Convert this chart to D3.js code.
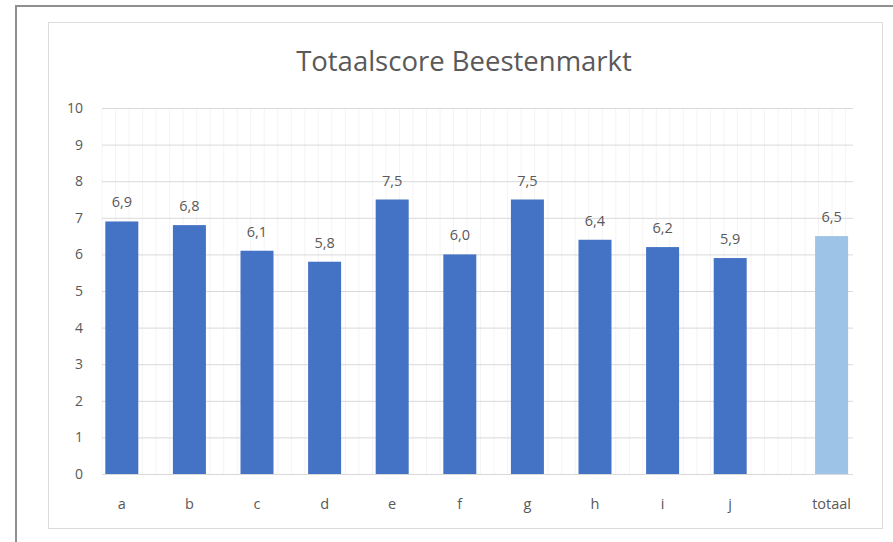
<!DOCTYPE html>
<html>
<head>
<meta charset="utf-8">
<script src="https://cdn.jsdelivr.net/npm/d3@7"></script>
<style>
  body { margin: 0; background: #fff; }
  svg { display: block; font-family: 'Open Sans', 'Liberation Sans', sans-serif; }
</style>
</head>
<body>
<svg id="chart" width="893" height="542"></svg>
<script>
const title = 'Totaalscore Beestenmarkt';
const categories = ['a', 'b', 'c', 'd', 'e', 'f', 'g', 'h', 'i', 'j'];
const scores = [6.9, 6.8, 6.1, 5.8, 7.5, 6.0, 7.5, 6.4, 6.2, 5.9];
const totalLabel = 'totaal';
const totalScore = 6.5;
const yTicks = [0, 1, 2, 3, 4, 5, 6, 7, 8, 9, 10];

const svg = d3.select('#chart');

// outer frame (left + top only)
svg.append('path')
  .attr('d', 'M16,542 V6 H893')
  .attr('fill', 'none')
  .attr('stroke', '#8f8f8f')
  .attr('stroke-width', 2);

// chart box
svg.append('rect')
  .attr('x', 48.5).attr('y', 22.5)
  .attr('width', 834).attr('height', 506)
  .attr('fill', '#fff')
  .attr('stroke', '#dcdcdc');

// bars a..j sit in slots 0..9, totaal sits half a slot further out
const bars = categories.map((c, i) => ({ label: c, value: scores[i], slot: i, total: false }));
bars.push({ label: totalLabel, value: totalScore, slot: categories.length + 0.5, total: true });

const x = d3.scaleLinear().domain([-0.5, 11]).range([88, 865.4]);
const y = d3.scaleLinear().domain([0, 10]).range([474, 108]);
const slotW = x(1) - x(0);
const barW = 33;

// faint vertical minor lines
const minor = d3.range(x(-0.5) + 14, 853, slotW / 5);
svg.append('g')
  .selectAll('line')
  .data(minor)
  .join('line')
    .attr('x1', (d) => d).attr('x2', (d) => d)
    .attr('y1', y(10)).attr('y2', y(0))
    .attr('stroke', '#f4f4f4');

// horizontal gridlines
svg.append('g')
  .attr('transform', 'translate(102,0)')
  .call(d3.axisLeft(y).tickValues(yTicks).tickSize(-751).tickFormat(''))
  .call((g) => g.select('.domain').remove())
  .call((g) => g.selectAll('line').attr('stroke', '#d9d9d9'));

// y labels
svg.append('g')
  .attr('transform', 'translate(83,0)')
  .call(d3.axisLeft(y).tickValues(yTicks).tickSize(0).tickPadding(0))
  .attr('font-family', null)
  .attr('font-size', 14)
  .call((g) => g.select('.domain').remove())
  .call((g) => g.selectAll('text').attr('fill', '#595959'));

// bars
svg.append('g')
  .selectAll('rect')
  .data(bars)
  .join('rect')
    .attr('x', (d) => x(d.slot) - barW / 2)
    .attr('y', (d) => y(d.value))
    .attr('width', barW)
    .attr('height', (d) => y(0) - y(d.value))
    .attr('fill', (d) => d.total ? '#9dc3e6' : '#4472c4');

// value labels
svg.append('g')
  .selectAll('text')
  .data(bars)
  .join('text')
    .attr('x', (d) => x(d.slot))
    .attr('y', (d) => y(d.value) - 14)
    .attr('text-anchor', 'middle')
    .attr('fill', '#595959')
    .style('font-size', '14.5px')
    .text((d) => d3.format('.1f')(d.value).replace('.', ','));

// category labels
svg.append('g')
  .selectAll('text')
  .data(bars)
  .join('text')
    .attr('x', (d) => x(d.slot))
    .attr('y', 509)
    .attr('text-anchor', 'middle')
    .attr('fill', '#595959')
    .style('font-size', '14.5px')
    .text((d) => d.label);

// title
svg.append('text')
  .attr('x', 464)
  .attr('y', 71)
  .attr('text-anchor', 'middle')
  .attr('fill', '#595959')
  .style('font-size', '27.5px')
  .text(title);
</script>
</body>
</html>
